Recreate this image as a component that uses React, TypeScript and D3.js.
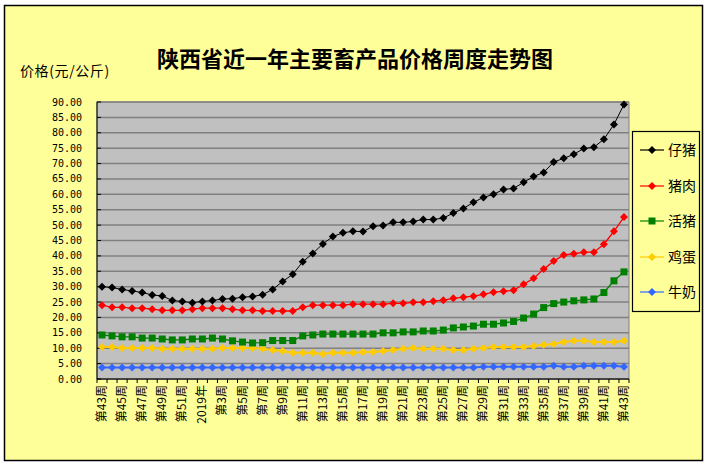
import { useMemo } from "react";
import * as d3 from "d3";

// 周次
const weeks = [
  "第43周", "第44周", "第45周", "第46周", "第47周", "第48周", "第49周", "第50周", "第51周", "第52周",
  "2019年", "第2周", "第3周", "第4周", "第5周", "第6周", "第7周", "第8周", "第9周", "第10周",
  "第11周", "第12周", "第13周", "第14周", "第15周", "第16周", "第17周", "第18周", "第19周", "第20周",
  "第21周", "第22周", "第23周", "第24周", "第25周", "第26周", "第27周", "第28周", "第29周", "第30周",
  "第31周", "第32周", "第33周", "第34周", "第35周", "第36周", "第37周", "第38周", "第39周", "第40周",
  "第41周", "第42周", "第43周",
];

const piglet = [
  30.0, 29.7, 29.1, 28.6, 28.1, 27.3, 27.0, 25.5, 25.2, 24.8, 25.2, 25.5, 26.0, 26.1, 26.6, 26.8, 27.4,
  29.1, 31.7, 34.0, 38.1, 40.8, 43.9, 46.3, 47.5, 48.0, 47.9, 49.6, 49.9, 50.9, 50.9, 51.2, 51.8, 51.8,
  52.3, 53.9, 55.4, 57.4, 59.0, 60.0, 61.6, 61.9, 63.9, 65.8, 67.1, 70.5, 71.7, 73.0, 74.9, 75.3, 77.9,
  82.7, 89.2,
];
const pork = [
  24.0, 23.3, 23.3, 23.0, 23.0, 22.7, 22.3, 22.3, 22.3, 22.7, 23.0, 23.0, 23.0, 22.7, 22.3, 22.3, 22.1,
  22.1, 22.1, 22.1, 23.3, 24.0, 24.0, 24.0, 24.0, 24.3, 24.3, 24.3, 24.3, 24.6, 24.6, 24.9, 24.9, 25.3,
  25.6, 26.2, 26.6, 26.9, 27.5, 28.2, 28.5, 28.8, 30.8, 32.7, 35.7, 38.3, 40.3, 40.7, 41.2, 41.2, 43.8,
  48.0, 52.6,
];
const hog = [
  14.3, 14.0, 13.7, 13.7, 13.3, 13.3, 13.0, 12.7, 12.7, 13.0, 13.0, 13.3, 13.0, 12.4, 12.0, 11.7, 11.8,
  12.5, 12.5, 12.5, 14.0, 14.3, 14.6, 14.6, 14.6, 14.6, 14.6, 14.6, 15.0, 15.0, 15.3, 15.3, 15.6, 15.6,
  15.9, 16.6, 16.9, 17.2, 17.8, 17.8, 18.2, 18.7, 19.8, 21.1, 23.2, 24.5, 25.0, 25.4, 25.7, 26.0, 28.1,
  31.9, 34.8,
];
const egg = [
  10.4, 10.4, 10.1, 10.1, 10.1, 10.1, 9.8, 9.8, 9.8, 9.8, 9.8, 9.8, 10.1, 10.1, 10.1, 10.1, 9.8,
  9.4, 9.1, 8.5, 8.5, 8.5, 8.1, 8.5, 8.5, 8.5, 8.8, 8.8, 9.1, 9.4, 9.8, 10.1, 9.8, 9.8,
  9.8, 9.4, 9.4, 9.8, 10.1, 10.4, 10.4, 10.4, 10.4, 10.7, 11.1, 11.4, 12.0, 12.4, 12.4, 12.0, 12.0,
  12.0, 12.4,
];
const milk = [
  3.7, 3.7, 3.7, 3.7, 3.7, 3.7, 3.7, 3.7, 3.7, 3.7, 3.7, 3.7, 3.7, 3.7, 3.7, 3.7, 3.7,
  3.7, 3.7, 3.7, 3.7, 3.7, 3.7, 3.7, 3.7, 3.7, 3.7, 3.7, 3.7, 3.7, 3.7, 3.7, 3.7, 3.7,
  3.7, 3.7, 3.7, 3.7, 4.0, 4.0, 4.0, 4.0, 4.0, 4.0, 4.0, 4.3, 4.0, 4.0, 4.3, 4.3, 4.3,
  4.3, 4.0,
];

const yTicks = [0, 5, 10, 15, 20, 25, 30, 35, 40, 45, 50, 55, 60, 65, 70, 75, 80, 85, 90];

type Series = { name: string; values: number[]; color: string; width: number; marker: "diamond" | "square" };

const series: Series[] = [
  { name: "仔猪", values: piglet, color: "#000000", width: 1, marker: "diamond" },
  { name: "猪肉", values: pork, color: "#FF0000", width: 1.3, marker: "diamond" },
  { name: "活猪", values: hog, color: "#008000", width: 1.3, marker: "square" },
  { name: "鸡蛋", values: egg, color: "#FFCC00", width: 2, marker: "diamond" },
  { name: "牛奶", values: milk, color: "#3366FF", width: 2, marker: "diamond" },
];

const cjk = "'Noto Sans CJK SC', sans-serif";

const Marker = ({ x, y, s }: { x: number; y: number; s: Series }) =>
  s.marker === "square" ? (
    <rect x={x - 3.5} y={y - 3.5} width={7} height={7} fill={s.color} />
  ) : (
    <path d={`M${x},${y - 4}L${x + 4},${y}L${x},${y + 4}L${x - 4},${y}Z`} fill={s.color} />
  );

export default function App() {
  const margin = { left: 97, right: 629, top: 102, bottom: 379 };

  const x = useMemo(
    () => d3.scaleBand<number>().domain(d3.range(weeks.length)).range([margin.left, margin.right]),
    [],
  );
  const y = useMemo(() => d3.scaleLinear().domain([0, 90]).range([margin.bottom, margin.top]), []);
  const cx = (i: number) => (x(i) ?? 0) + x.bandwidth() / 2;

  const line = d3
    .line<number>()
    .x((_, i) => cx(i))
    .y((d) => y(d));

  const legendY = [150, 186, 221, 257, 292];

  return (
    <svg width={709} height={466} style={{ position: "absolute", left: 0, top: 0 }}>
      <rect x={0} y={0} width={709} height={466} fill="#ffffff" />
      <rect x={4.5} y={5.5} width={698} height={455} fill="#FFFF99" stroke="#000" strokeWidth={1.5} />

      <text x={355} y={67} textAnchor="middle" fontFamily={cjk} fontWeight="bold" fontSize={22}>
        陕西省近一年主要畜产品价格周度走势图
      </text>
      <text x={20} y={76} fontFamily={cjk} fontSize={14} letterSpacing={0.6}>
        价格(元/公斤)
      </text>

      {/* 绘图区 */}
      <rect
        x={margin.left}
        y={margin.top}
        width={margin.right - margin.left}
        height={margin.bottom - margin.top}
        fill="#C0C0C0"
        stroke="#808080"
      />
      {yTicks.map((t) => (
        <g key={t}>
          <line x1={margin.left} x2={margin.right} y1={y(t)} y2={y(t)} stroke="#808080" strokeWidth={1.5} />
          <line x1={margin.left} x2={margin.left + 4} y1={y(t)} y2={y(t)} stroke="#000" />
          <text
            x={82}
            y={y(t)}
            dy="0.35em"
            textAnchor="end"
            fontFamily="'DejaVu Sans Mono', monospace"
            fontSize={10}
          >
            {t.toFixed(2)}
          </text>
        </g>
      ))}
      <line x1={margin.left} x2={margin.left} y1={margin.top} y2={margin.bottom} stroke="#000" />
      <line x1={margin.left} x2={margin.right} y1={margin.bottom} y2={margin.bottom} stroke="#000" />

      {/* X轴刻度 */}
      {weeks.map((w, i) => (
        <g key={i}>
          <line
            x1={x(i) ?? 0}
            x2={x(i) ?? 0}
            y1={margin.bottom}
            y2={margin.bottom + 4}
            stroke="#000"
          />
          {i % 2 === 0 && (
            <text
              transform={`translate(${cx(i) + 4},${margin.bottom + 6}) rotate(-90)`}
              textAnchor="end"
              fontFamily={cjk}
              fontSize={12}
            >
              {w}
            </text>
          )}
        </g>
      ))}
      <line x1={margin.right} x2={margin.right} y1={margin.bottom} y2={margin.bottom + 4} stroke="#000" />

      {/* 折线 */}
      {series
        .slice()
        .reverse()
        .map((s) => (
          <g key={s.name}>
            <path d={line(s.values) ?? ""} fill="none" stroke={s.color} strokeWidth={s.width} />
            {s.values.map((v, i) => (
              <Marker key={i} x={cx(i)} y={y(v)} s={s} />
            ))}
          </g>
        ))}

      {/* 图例 */}
      <rect x={632.5} y={131.5} width={67} height={180} fill="#FFFF99" stroke="#000" strokeWidth={1.2} />
      {series.map((s, i) => (
        <g key={s.name}>
          <line x1={640} x2={664} y1={legendY[i]} y2={legendY[i]} stroke={s.color} strokeWidth={1.2} />
          <Marker x={652} y={legendY[i]} s={s} />
          <text x={668} y={legendY[i]} dy="0.35em" fontFamily={cjk} fontSize={14}>
            {s.name}
          </text>
        </g>
      ))}
    </svg>
  );
}
